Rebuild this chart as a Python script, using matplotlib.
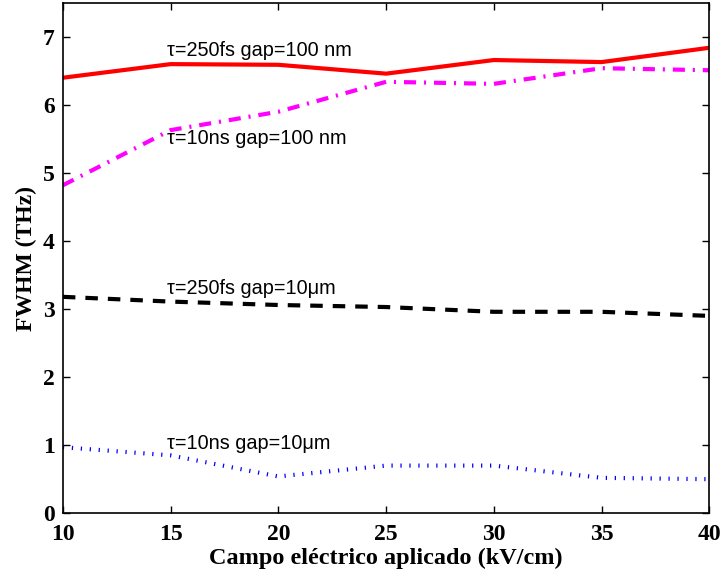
import matplotlib
matplotlib.use("Agg")
import matplotlib.pyplot as plt

# applied field (kV/cm)
campo = [10, 15, 20, 25, 30, 35, 40]

# FWHM (THz)
fwhm_250fs_100nm = [6.40, 6.60, 6.59, 6.46, 6.66, 6.63, 6.84]
fwhm_10ns_100nm = [4.82, 5.63, 5.90, 6.34, 6.31, 6.54, 6.51]
fwhm_250fs_10um = [3.18, 3.11, 3.06, 3.03, 2.96, 2.96, 2.90]
fwhm_10ns_10um = [0.97, 0.85, 0.54, 0.70, 0.70, 0.52, 0.50]

labels = ["\u03c4=250fs gap=100 nm", "\u03c4=10ns gap=100 nm",
          "\u03c4=250fs gap=10\u03bcm", "\u03c4=10ns gap=10\u03bcm"]
label_pos = [(14.85, 6.8), (14.85, 5.5), (14.85, 3.3), (14.85, 1.02)]

fig = plt.figure(figsize=(7.23, 5.76), dpi=100)
ax = fig.add_axes([0.087, 0.109, 0.894, 0.886])

ax.plot(campo, fwhm_250fs_100nm, color="#ff0000", linestyle="-", linewidth=3)
ax.plot(campo, fwhm_10ns_100nm, color="#ff00ff", linestyle="-.", linewidth=3,
        dashes=(2.9, 1.9, 0.5, 1.9))
ax.plot(campo, fwhm_250fs_10um, color="black", linestyle="--", linewidth=3,
        dashes=(3, 2.4))
ax.plot(campo, fwhm_10ns_10um, color="#0000ff", linestyle=":", linewidth=3,
        dashes=(0.3, 1.85))

for txt, (x, y) in zip(labels, label_pos):
    ax.text(x, y, txt, fontsize=14.3, family="Liberation Sans", va="center", ha="left")

ax.set_xlim(10, 40)
ax.set_ylim(0, 7.5)
ax.set_xticks(campo)
ax.set_yticks(range(0, 8))

serif_bold = {"family": "Liberation Serif", "weight": "bold"}
for lab in ax.get_xticklabels() + ax.get_yticklabels():
    lab.set_fontfamily("Liberation Serif")
    lab.set_fontweight("bold")
    lab.set_fontsize(17)

ax.tick_params(direction="in", top=True, right=True, length=5, width=1)
ax.tick_params(axis="x", pad=8)
ax.tick_params(axis="y", pad=6)
for sp in ax.spines.values():
    sp.set_linewidth(1.2)

ax.set_xlabel("Campo el\u00e9ctrico aplicado (kV/cm)", fontsize=17.5, labelpad=2, **serif_bold)
ax.set_ylabel("FWHM (THz)", fontsize=17, labelpad=4, **serif_bold)

fig.savefig("out.png", dpi=100)
